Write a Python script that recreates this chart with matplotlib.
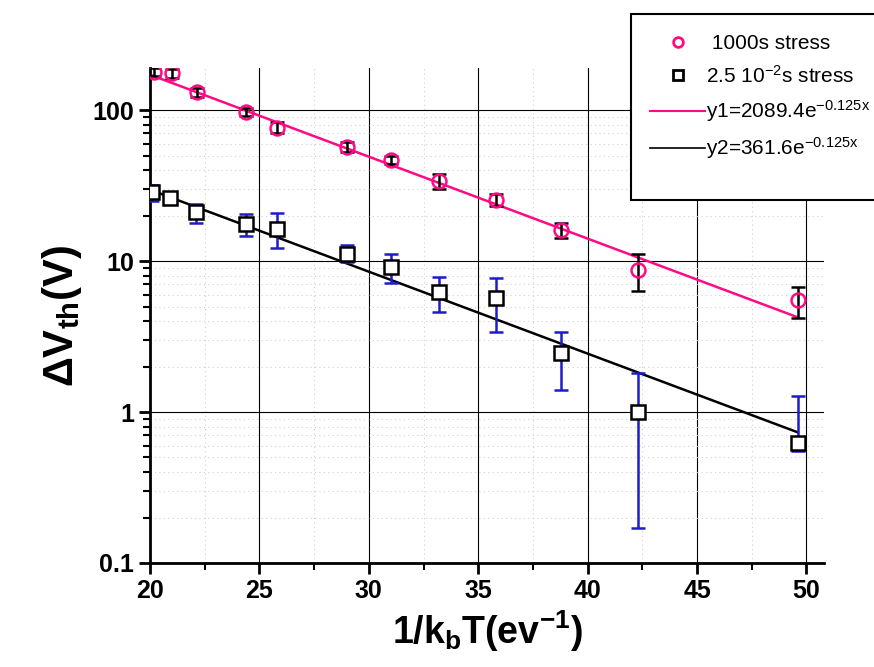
import numpy as np
import matplotlib.pyplot as plt
from matplotlib.patches import Rectangle
from matplotlib.lines import Line2D
from matplotlib.ticker import LogLocator, FixedLocator, NullFormatter

plt.rcParams['font.family'] = ['Liberation Sans', 'DejaVu Sans']
plt.rcParams['mathtext.default'] = 'regular'

# --- data ---
x_long = [20.2, 21.0, 22.15, 24.4, 25.8, 29.0, 31.0, 33.2, 35.8, 38.8, 42.3, 49.6]
dv_long = [178, 175, 131, 97, 76, 57, 47, 33.9, 25.4, 16.0, 8.7, 5.5]
dv_long_hi = [190, 188, 140, 103, 84, 61, 50, 37.5, 28.0, 17.8, 11.1, 6.7]
dv_long_lo = [168, 163, 122, 91, 70, 53, 44, 30.0, 23.0, 14.3, 6.3, 4.2]

x_short = [20.1, 20.9, 22.1, 24.4, 25.8, 29.0, 31.0, 33.2, 35.8, 38.8, 42.3, 49.6]
dv_short = [28.7, 26.2, 21.1, 17.6, 16.2, 11.1, 9.1, 6.2, 5.7, 2.46, 1.0, 0.62]
dv_short_hi = [31.8, 28.5, 23.8, 20.5, 20.8, 12.7, 11.1, 7.8, 7.7, 3.4, 1.8, 1.28]
dv_short_lo = [25.0, 24.0, 18.0, 14.7, 12.2, 9.9, 7.2, 4.6, 3.4, 1.41, 0.17, 0.55]

# exponential fits given in the legend
a1, a2, b = 2089.4, 361.6, 0.125
x_fit = np.linspace(20, 49.6, 50)

pink = '#ff0a84'
blue = '#1c1cc8'

fig = plt.figure(figsize=(8.74, 6.67), dpi=100)
ax = fig.add_axes([150/874, 1-563/667, 674/874, 495/667])

ax.set_yscale('log')
ax.set_xlim(20, 50.8)
ax.set_ylim(0.1, 190)

# grid
ax.yaxis.set_minor_locator(LogLocator(base=10, subs=np.arange(2, 10)))
ax.yaxis.set_minor_formatter(NullFormatter())
ax.xaxis.set_major_locator(FixedLocator([20, 25, 30, 35, 40, 45, 50]))
ax.xaxis.set_minor_locator(FixedLocator([22.5, 27.5, 32.5, 37.5, 42.5, 47.5]))
ax.grid(True, which='major', color='black', lw=0.8)
ax.grid(True, which='minor', color='#d0d0d0', lw=0.8, ls=(0, (1, 3)))
ax.set_axisbelow(True)

# fits
ax.plot(x_fit, a1*np.exp(-b*x_fit), color=pink, lw=1.8, zorder=2)
ax.plot(x_fit, a2*np.exp(-b*x_fit), color='black', lw=1.8, zorder=2)

# data with error bars
yl = np.array(dv_long)
ax.errorbar(x_long, yl, yerr=[yl-np.array(dv_long_lo), np.array(dv_long_hi)-yl],
            fmt='none', ecolor='black', elinewidth=1.8, capsize=5, capthick=1.8, zorder=3)
ax.plot(x_long, yl, 'o', ms=10, mfc='none', mec=pink, mew=1.8, zorder=4)

ys = np.array(dv_short)
ax.errorbar(x_short, ys, yerr=[ys-np.array(dv_short_lo), np.array(dv_short_hi)-ys],
            fmt='none', ecolor=blue, elinewidth=1.8, capsize=5, capthick=1.8, zorder=3)
ax.plot(x_short, ys, 's', ms=10, mfc='white', mec='black', mew=1.8, zorder=4)

# axes styling
for s in ['top', 'right']:
    ax.spines[s].set_visible(False)
for s in ['left', 'bottom']:
    ax.spines[s].set_linewidth(2)
ax.tick_params(which='major', direction='out', length=8, width=2, labelsize=18)
ax.tick_params(which='minor', direction='out', length=5, width=1.5)
ax.set_yticks([0.1, 1, 10, 100])
ax.set_yticklabels(['0.1', '1', '10', '100'], fontweight='bold')
ax.set_xticklabels(['20', '25', '30', '35', '40', '45', '50'], fontweight='bold')

ax.set_xlabel('1/k$_b$T(ev$^{-1}$)', fontsize=27, fontweight='bold', labelpad=4)
ax.set_ylabel('ΔV$_{th}$(V)', fontsize=30, fontweight='bold', labelpad=6)

# legend box running off the right edge
fig.patches.append(Rectangle((631/874, 1-200/667), 0.4, 186/667, transform=fig.transFigure,
                             facecolor='white', edgecolor='black', lw=1.5, zorder=5))
handles = [
    Line2D([], [], ls='none', marker='o', ms=7, mfc='none', mec=pink, mew=2),
    Line2D([], [], ls='none', marker='s', ms=7, mfc='none', mec='black', mew=2),
    Line2D([], [], color=pink, lw=1.5),
    Line2D([], [], color='black', lw=1.2),
]
labels = [' 1000s stress', '2.5 10$^{-2}$s stress',
          'y1=2089.4e$^{-0.125x}$', 'y2=361.6e$^{-0.125x}$']
leg = fig.legend(handles, labels, loc='upper left', bbox_to_anchor=(640/874, 1-24/667),
                 frameon=False, fontsize=15, handlelength=2.6, handletextpad=0.05,
                 labelspacing=0.55, borderpad=0)
leg.set_zorder(6)

fig.savefig('out.png', dpi=100)
